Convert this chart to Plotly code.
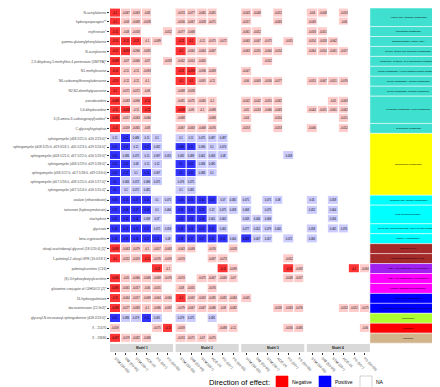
import math
import plotly.graph_objects as go

# ---------------- data ----------------
metabolites = [
    "N-acetylalanine", "hydroxyasparagine**", "erythronate*", "gamma-glutamylphenylalanine",
    "N-acetylserine", "2,3-dihydroxy-5-methylthio-4-pentenoate (DMTPA)*", "N1-methylinosine",
    "N6-carbamoylthreonyladenosine", "N2,N2-dimethylguanosine", "pseudouridine",
    "5,6-dihydrouridine", "3-(3-amino-3-carboxypropyl)uridine*", "C-glycosyltryptophan",
    "sphingomyelin (d18:2/21:0, d16:2/23:0)*",
    "sphingomyelin (d18:1/25:0, d19:0/24:1, d20:1/23:0, d19:1/24:0)*",
    "sphingomyelin (d18:1/21:0, d17:1/22:0, d16:1/23:0)*",
    "sphingomyelin (d18:1/19:0, d19:1/18:0)*",
    "sphingomyelin (d18:1/17:0, d17:1/18:0, d19:1/16:0)",
    "sphingomyelin (d17:1/16:0, d18:1/15:0, d16:1/17:0)*",
    "sphingomyelin (d17:1/14:0, d16:1/15:0)*",
    "oxalate (ethanedioate)", "tartronate (hydroxymalonate)", "stachydrine", "glycerate",
    "beta-cryptoxanthin", "oleoyl-arachidonoyl-glycerol (18:1/20:4) [1]*",
    "1-palmitoyl-2-oleoyl-GPE (16:0/18:1)", "palmitoylcarnitine (C16)",
    "(S)-3-hydroxybutyrylcarnitine", "glutamine conjugate of C6H10O2 (2)*",
    "16-hydroxypalmitate", "docosatrienoate (22:3n3)*",
    "glycosyl-N-tricosanoyl-sphingadienine (d18:2/23:0)*", "X - 21470", "X - 23680",
]

sub_pathway = [
    "Alanine and Aspartate Metabolism*", "Alanine and Aspartate Metabolism*",
    "Aminosugar Metabolism", "Gamma-glutamyl Amino Acid**",
    "Glycine, Serine and Threonine Metabolism*",
    "Methionine, Cysteine, SAM and Taurine Metabolism**",
    "Purine Metabolism, (Hypo)Xanthine/Inosine containing**",
    "Purine Metabolism, Adenine containing**", "Purine Metabolism, Guanine containing",
    "Pyrimidine Metabolism, Uracil containing**", "Pyrimidine Metabolism, Uracil containing**",
    "Pyrimidine Metabolism, Uracil containing**", "Tryptophan Metabolism",
    "Sphingolipid Metabolism*", "Sphingolipid Metabolism*", "Sphingolipid Metabolism*",
    "Sphingolipid Metabolism*", "Sphingolipid Metabolism*", "Sphingolipid Metabolism*",
    "Sphingolipid Metabolism*",
    "Ascorbate and Aldarate Metabolism*", "Food Component/Plant*", "Food Component/Plant*",
    "Glycolysis, Gluconeogenesis, and Pyruvate Metabolism*", "Vitamin A Metabolism*",
    "Diacylglycerol**", "Phosphatidylethanolamine (PE)",
    "Fatty Acid Metabolism (Acyl Carnitine)*", "Fatty Acid Metabolism (Acyl Carnitine)*",
    "Partially Characterized Molecules", "Fatty Acid, Monohydroxy*",
    "Long Chain Polyunsaturated Fatty Acid (n3 and n6)", "Ceramides*", "Unknown", "Unknown",
]

super_class = (["Amino acid / Nucleotide"] * 13 + ["Sphingolipid"] * 7 + ["Cofactors / Xenobiotics"] * 5
               + ["Complex lipid"] * 2 + ["Acyl carnitine"] + ["Partially characterized"] * 2
               + ["Fatty acid"] * 2 + ["Ceramide"] + ["Unknown A"] + ["Unknown B"])

class_colors = {
    "Amino acid / Nucleotide": "#40E0D0", "Sphingolipid": "#FFFF00",
    "Cofactors / Xenobiotics": "#00FFFF", "Complex lipid": "#A52A2A",
    "Acyl carnitine": "#A020F0", "Partially characterized": "#FF00FF",
    "Fatty acid": "#0000FF", "Ceramide": "#ADFF2F", "Unknown A": "#FF0000", "Unknown B": "#D2B48C",
}

models = ["Model 1", "Model 2", "Model 3", "Model 4"]
cohorts = ["STM (50-65)", "DM (50-65)", "STM (65+)", "ACE-26", "PS (50+)", "PS (50-65)"]

N = None
model1_values = [
    [-0.1, -0.067, -0.063, -0.08, N, N], [-0.1, -0.08, -0.083, -0.058, N, N],
    [-0.11, -0.08, -0.058, N, N, -0.052], [-0.14, -0.11, -0.15, -0.1, -0.089, N],
    [-0.12, -0.092, -0.096, -0.081, N, N], [-0.089, -0.07, -0.066, -0.07, N, -0.058],
    [-0.14, -0.11, -0.11, -0.093, N, N], [-0.13, -0.11, -0.11, -0.1, N, N],
    [-0.1, -0.071, -0.072, -0.08, N, N], [-0.098, -0.083, -0.096, -0.11, N, N],
    [-0.11, -0.098, -0.11, -0.11, N, N], [-0.094, -0.057, -0.063, -0.066, N, N],
    [-0.11, -0.059, -0.065, -0.08, N, N],
    [0.11, 0.11, 0.086, 0.11, 0.1, N], [0.11, 0.12, 0.11, 0.12, 0.092, N],
    [0.11, 0.086, 0.075, 0.11, 0.097, 0.055], [0.11, 0.12, 0.08, 0.11, 0.12, N],
    [0.12, 0.12, 0.1, 0.12, 0.097, N], [0.1, 0.084, 0.072, 0.086, 0.075, N],
    [0.1, 0.1, 0.071, 0.081, N, N],
    [0.16, 0.15, 0.17, 0.15, 0.1, 0.075], [0.17, 0.16, 0.17, 0.13, 0.1, 0.066],
    [0.15, 0.14, 0.16, 0.098, 0.07, N], [0.16, 0.13, 0.13, 0.17, 0.075, 0.059],
    [0.16, 0.13, 0.16, 0.17, 0.12, 0.08],
    [-0.093, -0.063, -0.079, -0.1, -0.057, -0.063], [-0.1, -0.052, -0.059, -0.11, -0.076, -0.059],
    [N, N, N, N, -0.11, -0.1], [-0.096, -0.05, -0.066, -0.069, -0.068, -0.076],
    [-0.095, -0.061, -0.057, -0.06, -0.055, N], [-0.11, -0.064, -0.057, -0.069, -0.064, -0.066],
    [-0.098, -0.077, -0.083, -0.1, -0.086, -0.092], [0.11, 0.086, 0.079, 0.11, 0.091, N],
    [-0.059, N, N, N, -0.075, -0.11], [-0.097, -0.079, -0.082, -0.086, N, N],
]
model1_sig = ["100000", "100000", "100000", "111000", "110000", "100000", "100000", "100000",
              "100000", "100100", "110100", "100000", "100000",
              "010000", "110100", "100000", "110000", "110100", "100000", "100000",
              "111100", "111100", "111000", "111100", "111110",
              "100000", "100100", "000010", "100000", "100000", "100000", "100000", "100100",
              "000001", "100000"]

model2_values = [
    [-0.074, -0.077, -0.065, -0.081, N, N], [-0.056, -0.067, -0.058, -0.071, N, N],
    [-0.077, -0.068, N, N, N, N], [-0.11, -0.1, -0.11, -0.075, -0.072, N],
    [-0.1, -0.064, -0.064, -0.067, N, N], [-0.062, -0.054, -0.065, N, N, N],
    [-0.11, -0.099, -0.096, -0.083, N, N], [-0.1, -0.1, -0.091, -0.11, N, N],
    [-0.068, -0.058, N, N, N, N], [-0.081, -0.075, -0.065, -0.1, N, N],
    [-0.098, -0.09, -0.1, -0.098, N, N], [-0.068, N, N, -0.068, N, N],
    [-0.067, -0.063, -0.068, -0.076, N, N],
    [0.1, 0.11, 0.075, 0.087, 0.087, N], [0.094, 0.11, 0.096, 0.1, 0.074, N],
    [0.092, 0.089, 0.061, 0.063, 0.08, N], [0.1, 0.12, 0.086, 0.085, N, N],
    [0.1, 0.11, 0.086, 0.1, N, N], [0.076, 0.075, N, N, N, N], [0.1, 0.081, N, N, N, N],
    [0.16, 0.15, 0.16, 0.14, 0.07, 0.082], [0.15, 0.11, 0.13, 0.12, 0.075, 0.058],
    [0.15, 0.14, 0.16, 0.061, 0.063, N], [0.16, 0.13, 0.13, 0.15, 0.065, N],
    [0.23, 0.17, 0.17, 0.15, 0.12, 0.064],
    [-0.063, -0.049, N, -0.076, N, -0.058], [-0.074, N, N, -0.087, -0.073, N],
    [N, N, N, N, -0.11, -0.099], [-0.074, N, -0.075, -0.067, -0.069, -0.07],
    [-0.08, -0.055, N, -0.076, N, N], [-0.1, -0.092, -0.092, -0.085, -0.081, -0.084],
    [-0.079, -0.067, -0.067, -0.086, -0.08, -0.082], [0.079, 0.075, N, 0.081, N, N],
    [-0.059, N, N, N, -0.088, -0.11], [-0.074, -0.071, -0.07, -0.075, N, N],
]
model2_sig = ["000000", "000000", "000000", "110000", "100000", "000000", "110000", "110000",
              "000000", "000000", "100000", "000000", "000000",
              "000000", "110000", "000000", "110000", "110000", "000000", "000000",
              "111100", "111000", "111000", "111100", "111110",
              "000000", "000000", "000010", "000000", "000000", "100000", "000000", "000000",
              "000000", "000000"]

model3_values = [
    [-0.043, -0.048, N, -0.052, N, N], [-0.057, N, N, -0.063, N, N],
    [-0.061, -0.052, N, N, N, N], [-0.063, -0.067, -0.075, N, -0.055, N],
    [-0.063, -0.055, -0.064, -0.054, N, N], [N, N, -0.052, N, N, N],
    [-0.047, N, N, N, N, N], [-0.06, -0.063, -0.056, -0.077, N, N],
    [N, N, N, N, N, N], [-0.042, -0.042, -0.055, -0.062, N, N],
    [-0.05, -0.053, -0.066, -0.063, N, N], [-0.04, N, N, -0.054, N, N],
    [-0.053, N, N, -0.053, N, N],
    [N, N, N, N, N, N], [N, N, N, N, N, N], [N, N, N, N, 0.058, N], [N, N, N, N, N, N],
    [N, N, N, N, N, N], [N, N, N, N, N, N], [N, N, N, N, N, N],
    [0.071, N, 0.075, 0.08, N, N], [0.068, N, 0.075, N, N, N],
    [0.049, 0.046, 0.069, N, N, N], [0.077, 0.052, 0.079, 0.065, N, N],
    [0.083, 0.067, 0.057, N, 0.072, N],
    [N, N, N, N, N, N], [N, N, N, N, -0.052, N],
    [N, N, N, N, -0.11, -0.092], [N, N, N, N, -0.048, -0.057],
    [N, N, N, N, N, N], [-0.045, N, N, N, N, N],
    [N, N, N, -0.058, -0.063, -0.076], [N, N, N, N, N, N],
    [N, N, N, N, -0.056, -0.085], [N, N, N, N, N, N],
]
model3_sig = ["000000"] * 24 + ["100000", "000000", "000000", "000010"] + ["000000"] * 7

model4_values = [
    [-0.04, -0.048, N, -0.053, N, N], [-0.049, N, N, -0.06, N, N],
    [-0.058, -0.051, N, N, N, N], [-0.054, -0.058, -0.062, N, N, N],
    [-0.064, -0.054, -0.061, -0.057, N, N], [N, N, N, N, N, N],
    [N, N, N, N, N, N], [-0.055, -0.067, -0.051, -0.076, N, N],
    [N, N, N, N, N, N], [N, N, -0.05, -0.063, N, N],
    [-0.044, -0.051, -0.061, -0.062, N, N], [N, N, N, -0.051, N, N],
    [-0.046, N, N, -0.052, N, N],
    [N, N, N, N, N, N], [N, N, N, N, N, N], [N, N, N, N, N, N], [N, N, N, N, N, N],
    [N, N, N, N, N, N], [N, N, N, N, N, N], [N, N, N, N, N, N],
    [0.05, N, 0.058, N, N, N], [0.052, N, 0.064, N, N, N],
    [N, N, 0.056, N, N, N], [0.058, N, 0.065, 0.076, N, N],
    [0.063, N, N, N, N, N],
    [N, N, N, N, N, N], [N, N, N, N, N, N],
    [N, N, N, N, -0.1, -0.094], [N, N, N, N, N, N],
    [N, N, N, N, N, N], [N, N, N, N, N, N],
    [N, N, N, -0.053, -0.052, -0.075], [N, N, N, N, N, N],
    [N, N, N, N, N, -0.06], [N, N, N, N, N, N],
]
model4_sig = ["000000"] * 27 + ["000010"] + ["000000"] * 7

model_values = [model1_values, model2_values, model3_values, model4_values]
model_sig = [model1_sig, model2_sig, model3_sig, model4_sig]

# ---------------- layout helpers ----------------
GAP_ROW = 0.15
GAP_COL = 0.24
NCOL = len(cohorts)
n = len(metabolites)

pos, runs = [], []
g, prev = -1, None
for i in range(n):
    key = (sub_pathway[i], super_class[i])
    if key != prev:
        g += 1
        prev = key
        runs.append([i, i])
    else:
        runs[-1][1] = i
    pos.append(i + g * GAP_ROW)

col_colors = ["#FFCCCC", "#FF3333", "#CCCCFF", "#3333FF"]
colorscale = [[0, col_colors[0]], [1 / 6, col_colors[0]], [1 / 6, col_colors[1]], [0.5, col_colors[1]],
              [0.5, col_colors[2]], [5 / 6, col_colors[2]], [5 / 6, col_colors[3]], [1, col_colors[3]]]


def code(v, s):
    if v is None:
        return float("nan")
    return (0 if v < 0 else 2) + (1 if s == "1" else 0)


fig = go.Figure()
for m in range(len(models)):
    x0 = m * (NCOL + GAP_COL)
    vals, sigs = model_values[m], model_sig[m]
    for (a, b) in runs:
        rows = list(range(a, b + 1))
        if all(v is None for r in rows for v in vals[r]):
            continue
        z = [[code(vals[r][c], sigs[r][c]) for c in range(NCOL)] for r in rows]
        t = [["" if vals[r][c] is None else f"{vals[r][c]:g}" for c in range(NCOL)] for r in rows]
        fig.add_trace(go.Heatmap(
            z=z, text=t, texttemplate="%{text}", textfont=dict(size=2.6, color="#000000"),
            x0=x0, dx=1, y0=pos[a], dy=1, zmin=0, zmax=3, colorscale=colorscale,
            showscale=False, xgap=1, ygap=1, hoverinfo="skip"))

# axes
x_end_heat = (len(models) - 1) * (NCOL + GAP_COL) + NCOL - 0.5
x_end = x_end_heat + 7.33
y_bottom_rows = pos[-1] + 0.5
y_axis_bottom = y_bottom_rows + 1.1
tickvals_x = [m * (NCOL + GAP_COL) + c for m in range(len(models)) for c in range(NCOL)]
ticktext_x = cohorts * len(models)

fig.update_xaxes(range=[-0.5, x_end], tickvals=tickvals_x, ticktext=ticktext_x, tickangle=45,
                 ticks="outside", ticklen=2, tickwidth=0.5, tickcolor="#333333", automargin=False,
                 tickfont=dict(size=3.6, color="#4D4D4D", family="Liberation Sans"),
                 showgrid=False, zeroline=False, showline=False)
fig.update_yaxes(range=[y_axis_bottom, -0.57], tickvals=pos, ticktext=metabolites,
                 ticks="outside", ticklen=2, tickwidth=0.5, tickcolor="#333333", automargin=False,
                 tickfont=dict(size=3.3, color="#4D4D4D", family="Liberation Sans"),
                 showgrid=False, zeroline=False, showline=False)

shapes, annotations = [], []
# model strips
for m, name in enumerate(models):
    xa = m * (NCOL + GAP_COL) - 0.5
    shapes.append(dict(type="rect", xref="x", yref="y", x0=xa, x1=xa + NCOL,
                       y0=y_bottom_rows + 0.17, y1=y_axis_bottom, fillcolor="#D9D9D9",
                       line=dict(width=0), layer="below"))
    annotations.append(dict(xref="x", yref="y", x=xa + NCOL / 2, y=(y_bottom_rows + 0.17 + y_axis_bottom) / 2,
                            text="<b>" + name + "</b>", showarrow=False,
                            font=dict(size=3.2, color="#1A1A1A", family="Liberation Sans")))

# pathway annotation column
for k, (a, b) in enumerate(runs):
    y0 = max(pos[a] - 0.5 - GAP_ROW / 2, -0.57)
    y1 = pos[b] + 0.5 + GAP_ROW / 2
    shapes.append(dict(type="rect", xref="x", yref="y", x0=x_end_heat, x1=x_end, y0=y0, y1=y1,
                       fillcolor=class_colors[super_class[a]], line=dict(color="white", width=0.5)))
    annotations.append(dict(xref="x", yref="y", x=(x_end_heat + x_end) / 2, y=(pos[a] + pos[b]) / 2,
                            text=sub_pathway[a], showarrow=False,
                            font=dict(size=2.4, color="#000000", family="Liberation Sans")))

# legend (drawn in paper coords)
L, R, T, B, W, H = 102, 1, 0, 43, 440, 387
pw, ph = W - L - R, H - T - B


def px(xp):
    return (xp - L) / pw


def py(yp):
    return 1 - (yp - T) / ph


ly = 374
annotations.append(dict(xref="paper", yref="paper", x=px(264), y=py(ly), xanchor="right", yanchor="middle",
                        text="Direction of effect:", showarrow=False,
                        font=dict(size=7.6, color="#000000", family="Liberation Sans")))
legend_items = [("Negative", "#FF0000", 268), ("Positive", "#0000FF", 311), ("NA", "#FFFFFF", 352)]
for lab, colr, xs in legend_items:
    shapes.append(dict(type="rect", xref="paper", yref="paper", x0=px(xs), x1=px(xs + 12),
                       y0=py(ly + 6), y1=py(ly - 6), fillcolor=colr,
                       line=dict(color="#B3B3B3" if lab == "NA" else colr, width=0.6)))
    annotations.append(dict(xref="paper", yref="paper", x=px(xs + 14), y=py(ly), xanchor="left",
                            yanchor="middle", text=lab, showarrow=False,
                            font=dict(size=5, color="#000000", family="Liberation Sans")))

fig.update_layout(width=W, height=H, margin=dict(l=L, r=R, t=T, b=B, pad=0, autoexpand=False),
                  plot_bgcolor="white", paper_bgcolor="white", shapes=shapes, annotations=annotations,
                  font=dict(family="Liberation Sans"), showlegend=False)

fig.write_html("out.html")
